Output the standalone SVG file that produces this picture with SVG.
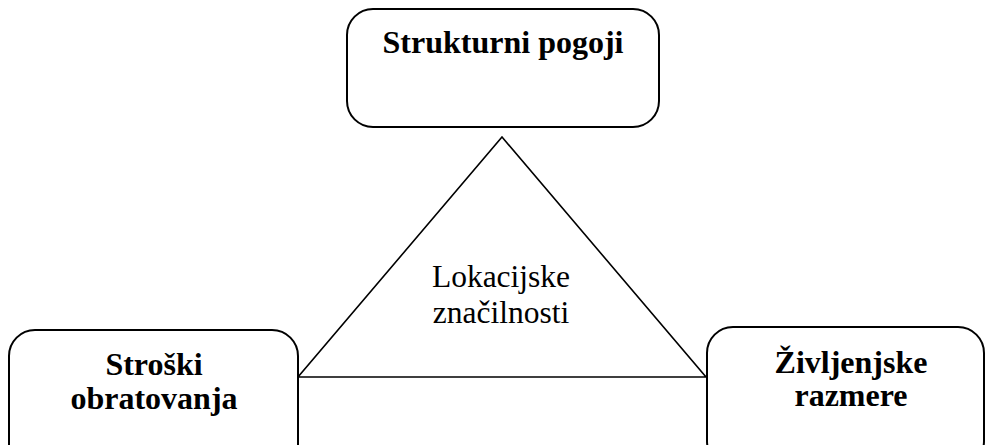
<svg xmlns="http://www.w3.org/2000/svg" width="987" height="445" viewBox="0 0 987 445">
  <style>
    .box { fill: #ffffff; stroke: #000000; stroke-width: 2; }
    .edge { fill: none; stroke: #000000; stroke-width: 1.6; stroke-linejoin: miter; }
    .title { font-family: 'Liberation Serif', Tinos, 'DejaVu Serif', serif; font-weight: bold; font-size: 32px; text-anchor: middle; fill: #000000; }
    .label { font-family: 'Liberation Serif', Tinos, 'DejaVu Serif', serif; font-size: 31.5px; text-anchor: middle; fill: #000000; }
  </style>
  <rect width="987" height="445" fill="#ffffff"/>

  <!-- connectors: the triangle linking the three factors -->
  <g id="connectors">
    <polygon class="edge" points="502,137 706,377 298,377"/>
    <text class="label" x="501" y="287">Lokacijske</text>
    <text class="label" x="501" y="323">značilnosti</text>
  </g>

  <g id="node-strukturni">
    <rect class="box" x="347" y="9" width="312" height="118" rx="26" ry="26"/>
    <text class="title" x="503" y="53">Strukturni pogoji</text>
  </g>

  <g id="node-stroski">
    <rect class="box" x="9" y="330" width="289" height="140" rx="26" ry="26"/>
    <text class="title" x="154" y="375">Stroški</text>
    <text class="title" x="154" y="409">obratovanja</text>
  </g>

  <g id="node-zivljenjske">
    <rect class="box" x="707" y="327" width="277" height="140" rx="26" ry="26"/>
    <text class="title" x="851" y="373">Življenjske</text>
    <text class="title" x="851" y="406">razmere</text>
  </g>
</svg>
